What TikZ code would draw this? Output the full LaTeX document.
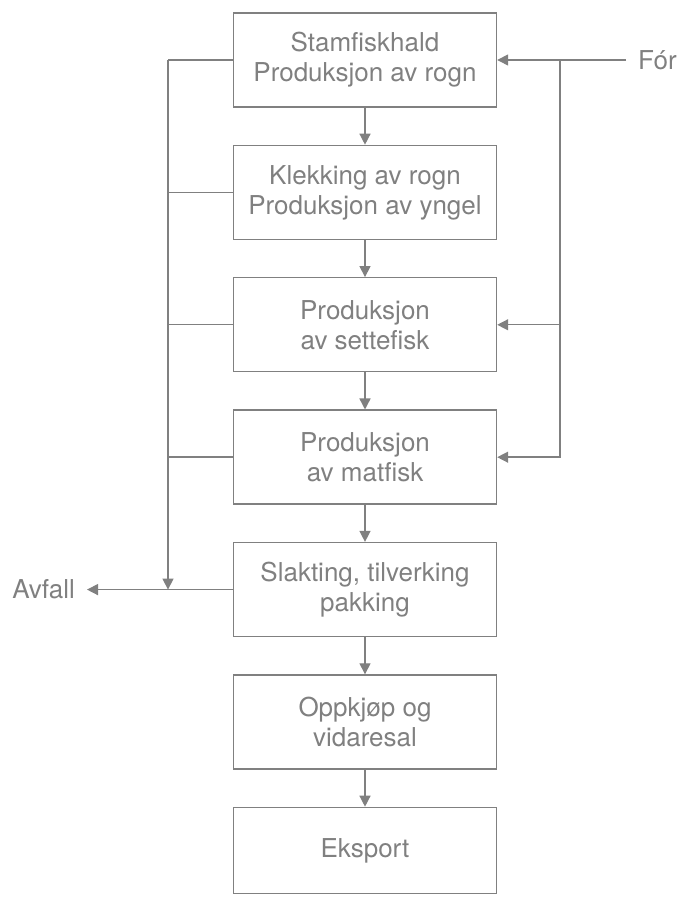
\documentclass[tikz,border=0pt]{standalone}
\usepackage{fontspec}
\setmainfont{TeX Gyre Heros}
\usetikzlibrary{positioning, arrows.meta}
\definecolor{scangray}{gray}{0.5}

\begin{document}
\begin{tikzpicture}[x=1pt, y=1pt, >={Triangle[width=11pt,length=11pt]},
    node distance=37pt,
    stage/.style={draw=scangray, line width=1.4pt, minimum width=263pt,
        minimum height=94pt, align=center, text=scangray,
        font=\fontsize{26}{30}\selectfont},
    endtext/.style={text=scangray, inner xsep=12pt, font=\fontsize{26}{30}\selectfont},
    flow/.style={draw=scangray, line width=1.4pt}]

    \useasboundingbox (0,0) rectangle (679,900);

    % The production chain, top to bottom
    \node[stage] (stamfisk) at (365,840) {Stamfiskhald\\Produksjon av rogn};
    \node[stage, below=of stamfisk] (klekking) {Klekking av rogn\\Produksjon av yngel};
    \node[stage, below=of klekking] (settefisk) {Produksjon\\av settefisk};
    \node[stage, below=of settefisk] (matfisk) {Produksjon\\av matfisk};
    \node[stage, below=of matfisk] (slakting) {Slakting, tilverking\\pakking};
    \node[stage, below=of slakting] (oppkjop) {Oppkjøp og\\vidaresal};
    \node[stage, minimum height=86pt, below=of oppkjop] (eksport) {Eksport};

    % Arrows between the stages
    \foreach \a/\b in {stamfisk/klekking, klekking/settefisk, settefisk/matfisk,
                       matfisk/slakting, slakting/oppkjop, oppkjop/eksport} {
        \draw[flow, ->] (\a) -- (\b);
    }

    % Waste line on the left
    \coordinate (wastetop) at (168,840);
    \coordinate (wastejoin) at (slakting.west -| wastetop);
    \coordinate (avfallx) at (87,0);
    \foreach \s in {stamfisk, klekking, settefisk, matfisk} {
        \draw[flow] (\s.west) -- (\s.west -| wastetop);
    }
    \draw[flow, ->] (wastetop) -- (wastejoin);
    \node[endtext, anchor=east] (avfall) at (slakting.west -| avfallx) {Avfall};
    \draw[flow, ->] (slakting.west) -- (avfall.east);

    % Feed line on the right
    \node[endtext, anchor=west] (for) at (626,840) {Fór};
    \coordinate (feedtop) at (560,840);
    \draw[flow, ->] (for.west) -- (stamfisk.east);
    \draw[flow, ->] (feedtop) |- (matfisk.east);
    \draw[flow, ->] (settefisk.east -| feedtop) -- (settefisk.east);

\end{tikzpicture}
\end{document}
